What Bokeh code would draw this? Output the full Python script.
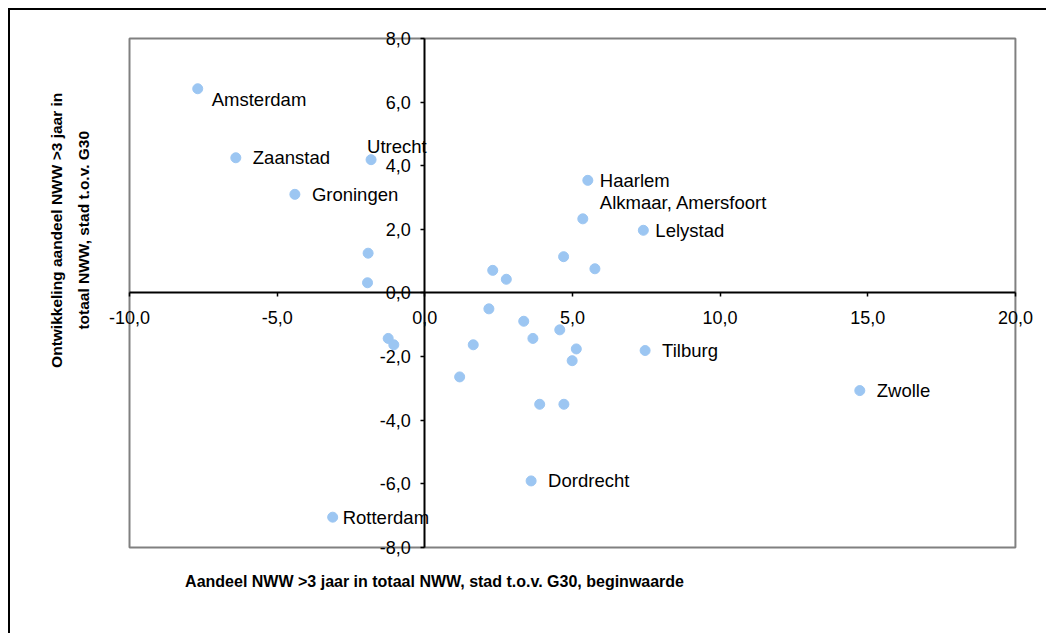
import math
from bokeh.plotting import figure
from bokeh.models import ColumnDataSource, FixedTicker, Label, Range1d
from bokeh.core.properties import value
from bokeh.embed import file_html
from bokeh.resources import INLINE

# ---- data ----
labels = ["Amsterdam", "Zaanstad", "Utrecht", "Groningen", "Haarlem",
          "Alkmaar, Amersfoort", "Lelystad", "Tilburg", "Zwolle",
          "Dordrecht", "Rotterdam",
          "", "", "", "", "", "", "", "", "", "", "", "", "", "", "", "", "", ""]
x_begin = [-7.69, -6.40, -1.82, -4.40, 5.52,
           5.35, 7.40, 7.46, 14.73,
           3.60, -3.12,
           -1.92, -1.94, 2.30, 2.76, 4.70, 5.76, 2.17, 3.35, 4.57,
           3.66, -1.24, -1.05, 1.64, 1.18, 3.89, 4.71, 5.13, 4.99]
y_change = [6.42, 4.25, 4.19, 3.10, 3.54,
            2.33, 1.97, -1.81, -3.07,
            -5.91, -7.05,
            1.25, 0.32, 0.71, 0.43, 1.14, 0.76, -0.50, -0.89, -1.16,
            -1.43, -1.43, -1.63, -1.63, -2.64, -3.50, -3.50, -1.76, -2.13]

x_ticks = [-10, -5, 0, 5, 10, 15, 20]
x_tick_labels = ["-10,0", "-5,0", "0,0", "5,0", "10,0", "15,0", "20,0"]
y_ticks = [-8, -6, -4, -2, 0, 2, 4, 6, 8]
y_tick_labels = ["-8,0", "-6,0", "-4,0", "-2,0", "0,0", "2,0", "4,0", "6,0", "8,0"]

x_title = "Aandeel NWW >3 jaar in totaal NWW, stad t.o.v. G30, beginwaarde"
y_title_lines = ["Ontwikkeling aandeel NWW >3 jaar in", "totaal NWW, stad t.o.v. G30"]

# label pixel offsets (style)
label_dx = [14, 17, -4, 17, 12, 17, 12, 17, 17, 17, 10] + [0] * 18
label_dy = [11, 0, -13, 0, 0, -16, 0, 0, 0, 0, 0] + [0] * 18

FONT = "Liberation Sans"

# the frame covers the whole canvas; the visible plot area (-10..20, -8..8)
# is drawn as a rectangle so that tick labels and titles are not clipped
p = figure(width=1038, height=625,
           x_range=Range1d(-14.03, 21.12), y_range=Range1d(-10.77, 8.88),
           output_backend="svg", toolbar_location=None,
           min_border_left=0, min_border_right=0,
           min_border_top=0, min_border_bottom=0)
p.grid.visible = False
p.outline_line_color = None
p.background_fill_color = "white"
p.border_fill_color = "white"
p.styles = {"margin-left": "8px", "margin-top": "8px",
            "border-left": "2px solid black", "border-top": "2px solid black"}

p.quad(left=x_ticks[0], right=x_ticks[-1], bottom=y_ticks[0], top=y_ticks[-1],
       fill_color=None, line_color="#808080", line_width=2)

for ax in (p.xaxis[0], p.yaxis[0]):
    ax.fixed_location = 0
    ax.axis_line_color = "black"
    ax.axis_line_width = 2
    ax.major_tick_line_color = "black"
    ax.major_tick_line_width = 1.5
    ax.minor_tick_line_color = None
    ax.major_tick_in = 0
    ax.major_tick_out = 4
    ax.major_label_text_font = FONT
    ax.major_label_text_font_size = "18px"
    ax.major_label_text_color = "black"

p.xaxis[0].bounds = (x_ticks[0], x_ticks[-1])
p.xaxis[0].ticker = FixedTicker(ticks=x_ticks)
p.xaxis[0].major_label_overrides = {t: s for t, s in zip(x_ticks, x_tick_labels)}
p.xaxis[0].major_label_standoff = 14
p.yaxis[0].bounds = (y_ticks[0], y_ticks[-1])
p.yaxis[0].ticker = FixedTicker(ticks=y_ticks)
p.yaxis[0].major_label_overrides = {t: s for t, s in zip(y_ticks, y_tick_labels)}
p.yaxis[0].major_label_standoff = 10

src = ColumnDataSource(dict(x=x_begin, y=y_change, name=labels,
                            dx=label_dx, dy=label_dy))
p.scatter("x", "y", source=src, size=10, fill_color="#9CC6F2",
          line_color="#9CC6F2")
p.text("x", "y", text="name", source=src, x_offset="dx", y_offset="dy",
       text_font=value(FONT), text_font_size="18.5px", text_color="black",
       text_align="left", text_baseline="middle")

p.add_layout(Label(x=0.33, y=-9.07, text=x_title, text_font=FONT,
                   text_font_size="16px", text_font_style="bold",
                   text_color="black",
                   text_align="center", text_baseline="middle"))
p.add_layout(Label(x=-12.47, y=1.97, text=y_title_lines[0], text_font=FONT,
                   text_font_size="15.5px", text_font_style="bold",
                   text_color="black",
                   angle=math.pi / 2, text_align="center", text_baseline="middle"))
p.add_layout(Label(x=-11.55, y=1.97, text=y_title_lines[1], text_font=FONT,
                   text_font_size="15.5px", text_font_style="bold",
                   text_color="black",
                   angle=math.pi / 2, text_align="center", text_baseline="middle"))

open("out.html", "w").write(file_html(p, INLINE))
